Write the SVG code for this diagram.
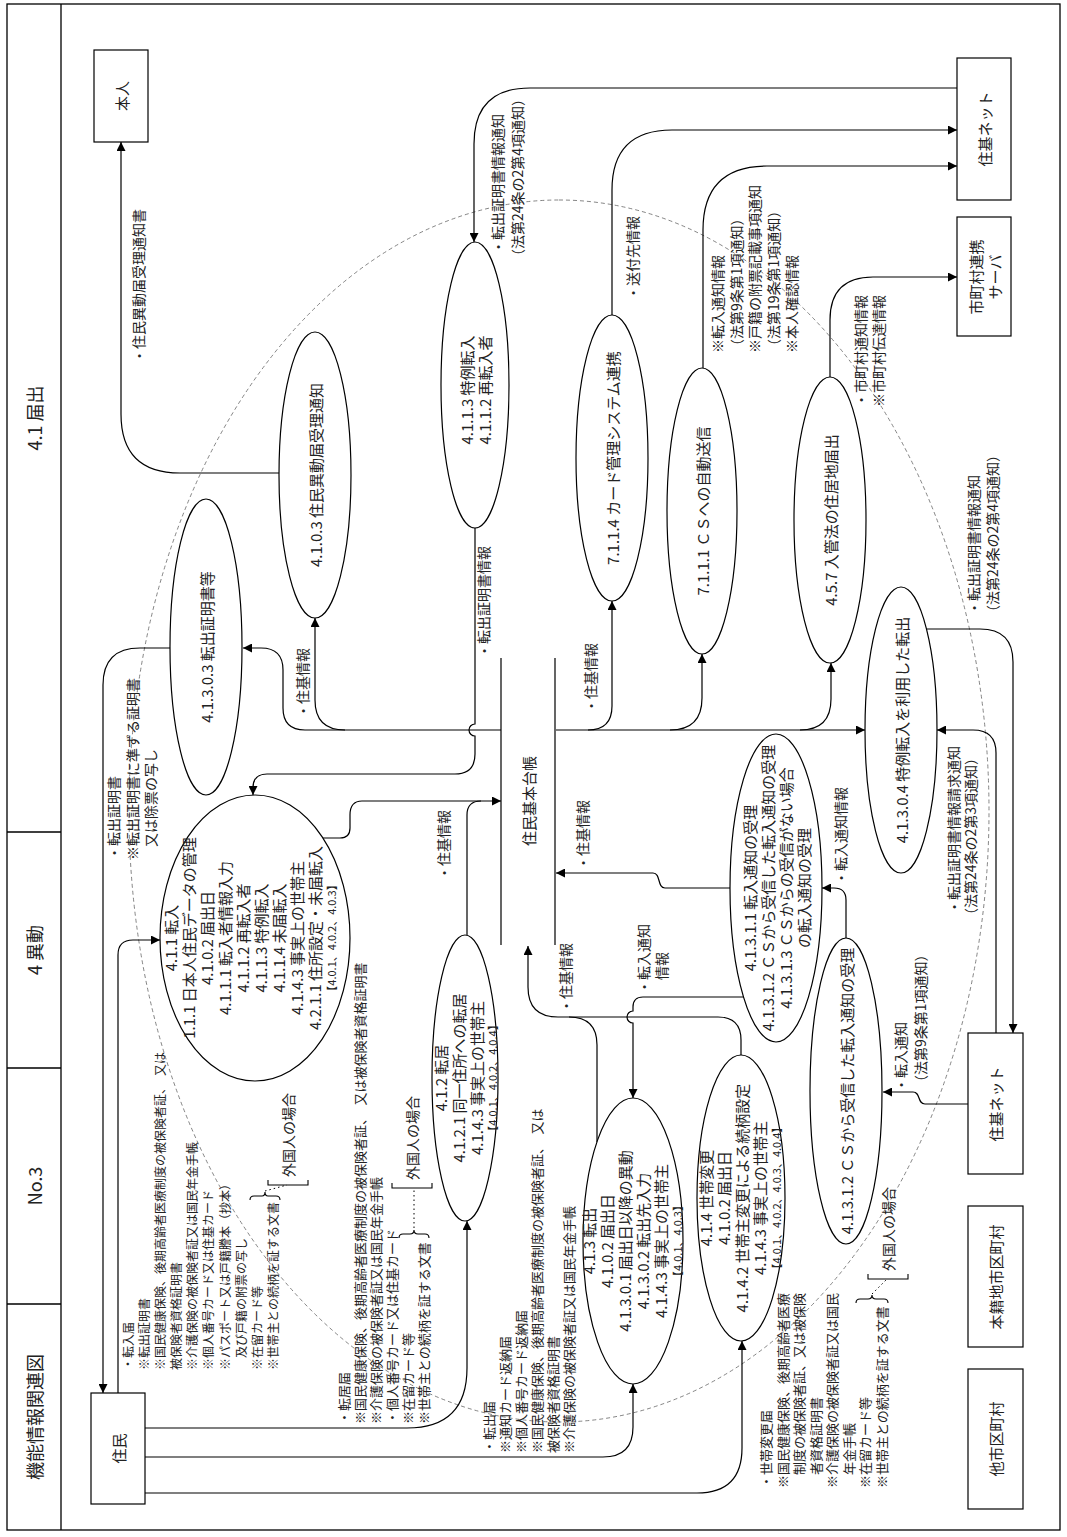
<svg xmlns="http://www.w3.org/2000/svg" width="1067" height="1537" viewBox="0 0 1067 1537">
<defs>
<style>
text{font-family:"Noto Sans CJK JP","Noto Sans CJK SC",sans-serif;fill:#222;dominant-baseline:central}
tspan{dominant-baseline:central}
.f11{font-size:11px}.f12{font-size:12px}.f13{font-size:13px}.f14{font-size:14px}.f15{font-size:15px}.f18{font-size:18px}
.c{text-anchor:middle}
.ln{fill:none;stroke:#000;stroke-width:1.2}
.a{marker-end:url(#ah)}
.nd{fill:#fff;stroke:#000;stroke-width:1.2}
.fr{fill:none;stroke:#000;stroke-width:1.3}
.ds{fill:none;stroke:#666;stroke-width:0.8;stroke-dasharray:4 3}
.dt{fill:none;stroke:#000;stroke-width:1;stroke-dasharray:1.5 3}
.br{fill:none;stroke:#000;stroke-width:1.1}
</style>
<marker id="ah" viewBox="0 0 10 10" refX="10" refY="5" markerWidth="11" markerHeight="9" markerUnits="userSpaceOnUse" orient="auto"><path d="M0,0L10,5L0,10z" fill="#000"/></marker>
</defs>
<rect width="1067" height="1537" fill="#fff"/>
<g transform="matrix(0,-1,1,0,0,1537)">
<g id="frame">
<rect class="fr" x="7" y="7" width="1526" height="1053"/>
<path class="fr" d="M7,61H1533M233,7V61M469,7V61M705,7V61"/>
<text class="f18 c" x="120" y="34">機能情報関連図</text>
<text class="f18 c" x="351" y="34">No.3</text>
<text class="f18 c" x="587" y="34">4 異動</text>
<text class="f18 c" x="1119" y="34">4.1 届出</text>
</g>
<ellipse id="boundary" class="ds" cx="726" cy="559" rx="611" ry="430"/>

<g id="connectors">
<path class="ln a" d="M889,170V140Q889,103 852,103H144"/>
<path class="ln a" d="M144,118H582Q597,118 597,133V160"/>
<path class="ln a" d="M109,145V407Q109,467 169,467H316"/>
<path class="ln a" d="M80,145V603Q80,633 110,633H153"/>
<path class="ln a" d="M44,145V697Q44,742 89,742H196"/>
<path class="ln a" d="M1064,279V180Q1064,121 1123,121H1395"/>
<path class="ln a" d="M807,501V345Q807,315 837,315H919"/>
<path class="ln a" d="M807,345V305Q807,283 829,283H867Q889,283 889,261V243"/>
<path class="ln a" d="M807,556V865"/>
<path class="ln a" d="M807,588Q807,612 831,612H936"/>
<path class="ln a" d="M807,670Q807,702 839,702H883"/>
<path class="ln a" d="M807,800Q807,831 838,831H874"/>
<path class="ln a" d="M699,323V340Q699,350 709,350H722Q736,350 736,362V501"/>
<path class="ln" d="M602,467H722Q736,467 736,481"/>
<path class="ln a" d="M1009,475H813A6,6 0 0 0 801,475H783Q763,475 763,455V267Q763,253 749,253H742"/>
<path class="ln a" d="M1449,957V530Q1449,474 1393,474H1295"/>
<path class="ln a" d="M1222,612H1347Q1407,612 1407,672V957"/>
<path class="ln a" d="M1169,703H1307Q1371,703 1371,767V957"/>
<path class="ln a" d="M1160,830H1217Q1260,830 1260,873V957"/>
<path class="ln a" d="M908,927V980Q908,1013 875,1013H504"/>
<path class="ln a" d="M504,996H784Q807,996 807,973V937"/>
<path class="ln a" d="M433,968V925C433,917 445,921 445,913V883"/>
<path class="ln a" d="M599,846H637Q649,846 649,834V822"/>
<path class="ln a" d="M649,730V665C649,657 664,661 664,653V556"/>
<path class="ln a" d="M540,744V643Q540,633 530,633H526A6,6 0 0 0 514,633H439"/>
<path class="ln a" d="M482,741H497Q520,741 520,718V558Q520,528 550,528H591"/>
<path class="ln" d="M395,597H492Q520,597 520,569"/>

<text class="f14" x="1174" y="138">・住民異動届受理通知書</text>
<text class="f14"><tspan x="677" y="113">・転出証明書</tspan><tspan x="677" y="132">※転出証明書に準ずる証明書</tspan><tspan x="690" y="150">又は除票の写し</tspan></text>
<text class="f14" x="819" y="302">・住基情報</text>
<text class="f14" x="879" y="483">・転出証明書情報</text>
<text class="f14" x="657" y="443">・住基情報</text>
<text class="f14" x="824" y="590">・住基情報</text>
<text class="f14" x="667" y="582">・住基情報</text>
<text class="f14" x="524" y="565">・住基情報</text>
<text class="f14"><tspan x="543" y="643">・転入通知</tspan><tspan x="557" y="661">情報</tspan></text>
<text class="f14" x="1237" y="632">・送付先情報</text>
<text class="f14"><tspan x="1184" y="717">※転入通知情報</tspan><tspan x="1184" y="735.5">（法第9条第1項通知）</tspan><tspan x="1184" y="754">※戸籍の附票記載事項通知</tspan><tspan x="1184" y="772.5">（法第19条第1項通知）</tspan><tspan x="1184" y="791">※本人確認情報</tspan></text>
<text class="f14"><tspan x="1130" y="860">・市町村通知情報</tspan><tspan x="1130" y="878">※市町村伝達情報</tspan></text>
<text class="f14"><tspan x="1283" y="497">・転出証明書情報通知</tspan><tspan x="1274" y="517">（法第24条の2第4項通知）</tspan></text>
<text class="f14"><tspan x="922" y="973">・転出証明書情報通知</tspan><tspan x="918" y="992">（法第24条の2第4項通知）</tspan></text>
<text class="f14"><tspan x="623" y="953">・転出証明書情報請求通知</tspan><tspan x="615" y="970">（法第24条の2第3項通知）</tspan></text>
<text class="f14" x="652" y="840">・転入通知情報</text>
<text class="f14"><tspan x="445" y="900">・転入通知</tspan><tspan x="448" y="920">（法第9条第1項通知）</tspan></text>

<text class="f12"><tspan x="167" y="127">・転入届</tspan><tspan x="167" y="143">※転出証明書</tspan><tspan x="167" y="159">※国民健康保険、後期高齢者医療制度の被保険者証、　又は</tspan><tspan x="167" y="175">被保険者資格証明書</tspan><tspan x="167" y="191">※介護保険の被保険者証又は国民年金手帳</tspan><tspan x="167" y="207">※個人番号カード又は住基カード</tspan><tspan x="167" y="224">※パスポート又は戸籍謄本（抄本）</tspan><tspan x="179" y="240">及び戸籍の附票の写し</tspan><tspan x="167" y="256">※在留カード等</tspan><tspan x="167" y="272">※世帯主との続柄を証する文書</tspan></text>
<text class="f13"><tspan x="113" y="343">・転居届</tspan><tspan x="113" y="359">※国民健康保険、後期高齢者医療制度の被保険者証、　又は被保険者資格証明書</tspan><tspan x="113" y="375">※介護保険の被保険者証又は国民年金手帳</tspan><tspan x="113" y="391">・個人番号カード又は住基カード</tspan><tspan x="113" y="407">※在留カード等</tspan><tspan x="113" y="423">※世帯主との続柄を証する文書</tspan></text>
<text class="f13"><tspan x="84" y="488">・転出届</tspan><tspan x="84" y="504">※通知カード返納届</tspan><tspan x="84" y="520">※個人番号カード返納届</tspan><tspan x="84" y="536">※国民健康保険、後期高齢者医療制度の被保険者証、　又は</tspan><tspan x="84" y="552">被保険者資格証明書</tspan><tspan x="84" y="568">※介護保険の被保険者証又は国民年金手帳</tspan></text>
<text class="f13"><tspan x="49" y="765">・世帯変更届</tspan><tspan x="49" y="781.5">※国民健康保険、後期高齢者医療</tspan><tspan x="62" y="798">制度の被保険者証、又は被保険</tspan><tspan x="62" y="814.5">者資格証明書</tspan><tspan x="49" y="831">※介護保険の被保険者証又は国民</tspan><tspan x="62" y="847.5">年金手帳</tspan><tspan x="49" y="864">※在留カード等</tspan><tspan x="49" y="880.5">※世帯主との続柄を証する文書</tspan></text>

<path class="br" d="M337,250Q341,250 341,254V262Q341,265 345,265Q341,265 341,268V276Q341,280 337,280"/>
<path class="dt" d="M346,265L352,287"/>
<path class="br" d="M357,268H352V308H357"/>
<text class="f14" x="360" y="288">外国人の場合</text>
<path class="br" d="M299,399Q303,399 303,403V410Q303,414 307,414Q303,414 303,418V425Q303,429 299,429"/>
<path class="dt" d="M309,414H347"/>
<path class="br" d="M354,392H349V432H354"/>
<text class="f14" x="357" y="412">外国人の場合</text>
<path class="br" d="M234,856Q238,856 238,860V868Q238,872 242,872Q238,872 238,876V884Q238,888 234,888"/>
<path class="dt" d="M243,872L258,887"/>
<path class="br" d="M263,868H258V908H263"/>
<text class="f14" x="266" y="888">外国人の場合</text>
</g>

<g id="n-honnin"><rect class="nd" x="1395" y="94" width="92" height="54"/><text class="f15 c" x="1441" y="121">本人</text></g>
<g id="n-jumin"><rect class="nd" x="33" y="91" width="111" height="54"/><text class="f15 c" x="88.5" y="118">住民</text></g>
<g id="n-jukinet-top"><rect class="nd" x="1337" y="957" width="142" height="54"/><text class="f15 c" x="1408" y="984">住基ネット</text></g>
<g id="n-server"><rect class="nd" x="1201" y="957" width="119" height="54"/><text class="f15 c"><tspan x="1260" y="975">市町村連携</tspan><tspan x="1260" y="994">サーバ</tspan></text></g>
<g id="n-jukinet-bottom"><rect class="nd" x="363" y="968" width="141" height="55"/><text class="f15 c" x="433" y="995.5">住基ネット</text></g>
<g id="n-honseki"><rect class="nd" x="190" y="968" width="141" height="55"/><text class="f15 c" x="260" y="995.5">本籍地市区町村</text></g>
<g id="n-tashi"><rect class="nd" x="28" y="968" width="140" height="55"/><text class="f15 c" x="98" y="995.5">他市区町村</text></g>
<g id="n-daicho"><path class="ln" d="M592,501H879M592,555H879"/><text class="f15 c" x="736" y="528">住民基本台帳</text></g>

<g id="p-41303"><ellipse class="nd" cx="890" cy="206" rx="148" ry="36"/><text class="f15 c" x="890" y="206">4.1.3.0.3 転出証明書等</text></g>
<g id="p-4103"><ellipse class="nd" cx="1062" cy="315" rx="143" ry="36"/><text class="f15 c" x="1062" y="315">4.1.0.3 住民異動届受理通知</text></g>
<g id="p-4113"><ellipse class="nd" cx="1152" cy="475" rx="143" ry="34"/><text class="f15 c"><tspan x="1147" y="466">4.1.1.3 特例転入</tspan><tspan x="1147" y="484">4.1.1.2 再転入者</tspan></text></g>
<g id="p-7114"><ellipse class="nd" cx="1079" cy="612" rx="143" ry="36"/><text class="f15 c" x="1079" y="612">7.1.1.4 カード管理システム連携</text></g>
<g id="p-7111"><ellipse class="nd" cx="1026" cy="702" rx="143" ry="35"/><text class="f15 c" x="1026" y="702">7.1.1.1 ＣＳへの自動送信</text></g>
<g id="p-457"><ellipse class="nd" cx="1017" cy="830" rx="143" ry="36"/><text class="f15 c" x="1017" y="830">4.5.7 入管法の住居地届出</text></g>
<g id="p-41304"><ellipse class="nd" cx="807" cy="901" rx="143" ry="36"/><text class="f15 c" x="807" y="901">4.1.3.0.4 特例転入を利用した転出</text></g>
<g id="p-411"><ellipse class="nd" cx="599" cy="255" rx="143" ry="95"/><text class="f15 c"><tspan x="599" y="170">4.1.1 転入</tspan><tspan x="599" y="188">1.1.1 日本人住民データの管理</tspan><tspan x="599" y="206">4.1.0.2 届出日</tspan><tspan x="599" y="224">4.1.1.1 転入者情報入力</tspan><tspan x="599" y="242">4.1.1.2 再転入者</tspan><tspan x="599" y="260">4.1.1.3 特例転入</tspan><tspan x="599" y="278">4.1.1.4 未届転入</tspan><tspan x="599" y="296">4.1.4.3 事実上の世帯主</tspan><tspan x="599" y="314">4.2.1.1 住所設定・未届転入</tspan><tspan class="f11" x="599" y="331">【4.0.1、4.0.2、4.0.3】</tspan></text></g>
<g id="p-412"><ellipse class="nd" cx="459" cy="465" rx="143" ry="33"/><text class="f15 c"><tspan x="459" y="440">4.1.2 転居</tspan><tspan x="459" y="458">4.1.2.1 同一住所への転居</tspan><tspan x="459" y="476">4.1.4.3 事実上の世帯主</tspan><tspan class="f11" x="459" y="492">【4.0.1、4.0.2、4.0.4】</tspan></text></g>
<g id="p-413"><ellipse class="nd" cx="296" cy="633" rx="143" ry="50"/><text class="f15 c"><tspan x="296" y="588">4.1.3 転出</tspan><tspan x="296" y="606">4.1.0.2 届出日</tspan><tspan x="296" y="624">4.1.3.0.1 届出日以降の異動</tspan><tspan x="296" y="642">4.1.3.0.2 転出先入力</tspan><tspan x="296" y="660">4.1.4.3 事実上の世帯主</tspan><tspan class="f11" x="296" y="677">【4.0.1、4.0.3】</tspan></text></g>
<g id="p-414"><ellipse class="nd" cx="339" cy="741" rx="143" ry="44"/><text class="f15 c"><tspan x="339" y="705">4.1.4 世帯変更</tspan><tspan x="339" y="723">4.1.0.2 届出日</tspan><tspan x="339" y="741">4.1.4.2 世帯主変更による続柄設定</tspan><tspan x="339" y="759">4.1.4.3 事実上の世帯主</tspan><tspan class="f11" x="339" y="776">【4.0.1、4.0.2、4.0.3、4.0.4】</tspan></text></g>
<g id="p-41311"><ellipse class="nd" cx="649" cy="776" rx="154" ry="46"/><text class="f15 c"><tspan x="649" y="749">4.1.3.1.1 転入通知の受理</tspan><tspan x="649" y="767">4.1.3.1.2 ＣＳから受信した転入通知の受理</tspan><tspan x="649" y="785">4.1.3.1.3 ＣＳからの受信がない場合</tspan><tspan x="649" y="803">の転入通知の受理</tspan></text></g>
<g id="p-41312"><ellipse class="nd" cx="446" cy="846" rx="153" ry="36"/><text class="f15 c" x="446" y="846">4.1.3.1.2 ＣＳから受信した転入通知の受理</text></g>
</g>
</svg>
